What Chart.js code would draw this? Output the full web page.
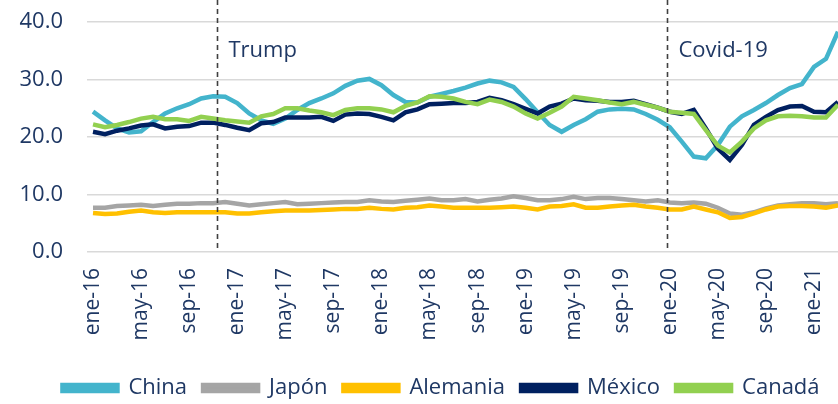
<!DOCTYPE html>
<html lang="es">
<head>
  <meta charset="UTF-8">
  <title>Participación en importaciones</title>
  <style>
    body { margin: 0; background: #fff; }
    .chart-container { width: 838px; height: 404px; position: relative; }
  </style>
</head>
<body>
  <div class="chart-container">
    <canvas id="importChart"></canvas>
  </div>

  <script src="https://cdn.jsdelivr.net/npm/chart.js"></script>
  <script>
    // months ene-16 .. mar-21
    const mesesCortos = ['ene', 'feb', 'mar', 'abr', 'may', 'jun', 'jul', 'ago', 'sep', 'oct', 'nov', 'dic'];
    const meses = [];
    for (let y = 16; y <= 21; y++) {
      for (const m of mesesCortos) meses.push(m + '-' + y);
    }
    const meses63 = meses.slice(0, 63);

    const china = [24.4, 22.9, 21.5, 20.8, 21.0, 22.6, 24.1, 25.0, 25.7, 26.7, 27.1, 27.0, 25.9, 24.1, 22.9, 22.3,
      23.2, 24.7, 25.9, 26.7, 27.6, 28.9, 29.8, 30.1, 29.0, 27.3, 26.1, 26.0, 27.0, 27.5, 28.0, 28.6,
      29.3, 29.8, 29.5, 28.7, 26.6, 24.3, 22.1, 20.9, 22.1, 23.1, 24.4, 24.8, 24.9, 24.8, 24.0, 23.0,
      21.7, 19.2, 16.6, 16.3, 18.6, 21.8, 23.6, 24.7, 25.9, 27.3, 28.5, 29.2, 32.2, 33.6, 38.3];
    const japon = [7.7, 7.7, 8.0, 8.1, 8.2, 8.0, 8.2, 8.4, 8.4, 8.5, 8.5, 8.7, 8.4, 8.1, 8.3, 8.5,
      8.7, 8.3, 8.4, 8.5, 8.6, 8.7, 8.7, 9.0, 8.8, 8.7, 8.9, 9.1, 9.3, 9.0, 9.0, 9.2,
      8.8, 9.1, 9.3, 9.7, 9.4, 9.0, 9.0, 9.2, 9.6, 9.2, 9.4, 9.4, 9.2, 9.0, 8.8, 9.0,
      8.6, 8.5, 8.6, 8.4, 7.7, 6.7, 6.5, 6.9, 7.6, 8.1, 8.3, 8.5, 8.5, 8.3, 8.5];
    const alemania = [6.8, 6.6, 6.7, 7.0, 7.2, 6.9, 6.8, 6.9, 6.9, 6.9, 6.9, 6.9, 6.7, 6.7, 6.9, 7.1,
      7.2, 7.2, 7.2, 7.3, 7.4, 7.5, 7.5, 7.7, 7.5, 7.4, 7.7, 7.8, 8.1, 7.9, 7.7, 7.7,
      7.7, 7.7, 7.8, 7.9, 7.7, 7.4, 7.9, 8.0, 8.3, 7.7, 7.7, 7.9, 8.1, 8.2, 7.9, 7.7,
      7.4, 7.4, 7.9, 7.4, 6.9, 5.9, 6.1, 6.7, 7.4, 7.9, 8.0, 8.0, 7.9, 7.7, 8.1];
    const mexico = [20.9, 20.5, 21.1, 21.5, 22.0, 22.2, 21.5, 21.8, 21.9, 22.5, 22.5, 22.1, 21.6, 21.2, 22.4, 22.6,
      23.4, 23.4, 23.4, 23.5, 22.8, 23.9, 24.1, 24.0, 23.5, 22.9, 24.3, 24.8, 25.7, 25.8, 25.9, 25.9,
      26.1, 26.8, 26.4, 25.7, 24.9, 24.1, 25.3, 25.8, 26.7, 26.4, 26.3, 26.1, 26.1, 26.3, 25.7, 25.1,
      24.4, 24.0, 24.7, 21.5, 18.0, 16.0, 18.6, 22.1, 23.5, 24.7, 25.3, 25.4, 24.4, 24.3, 26.1];
    const canada = [22.2, 21.7, 22.1, 22.6, 23.2, 23.5, 23.1, 23.1, 22.8, 23.5, 23.2, 22.9, 22.7, 22.5, 23.6, 24.0,
      25.0, 25.0, 24.6, 24.3, 23.8, 24.7, 25.0, 25.0, 24.8, 24.3, 25.4, 26.0, 27.1, 27.0, 26.7, 26.1,
      25.7, 26.5, 26.1, 25.3, 24.1, 23.2, 24.2, 25.3, 27.0, 26.7, 26.4, 26.0, 25.7, 26.1, 25.6, 25.1,
      24.4, 24.2, 24.0, 21.2, 18.5, 17.3, 19.2, 21.5, 22.9, 23.6, 23.7, 23.6, 23.4, 23.4, 25.6];

    const yTicks = [0, 10, 20, 30, 40];
    const xTickIdx = [0, 4, 8, 12, 16, 20, 24, 28, 32, 36, 40, 44, 48, 52, 56, 60];
    // event markers: position in months from ene-16
    const eventos = ['Trump', 'Covid-19'];
    const eventosPos = [10.3, 47.75];

    const navy = '#1F3864';
    const toXY = arr => arr.map((v, i) => ({ x: i, y: v }));

    const eventLines = {
      id: 'eventLines',
      afterLayout(chart) {
        // legend sits a bit right of centre in the original
        chart.legend.left += 22;
        chart.legend.right += 22;
      },
      afterDatasetsDraw(chart) {
        const { ctx, scales: { x }, chartArea } = chart;
        ctx.save();
        eventosPos.forEach((p, k) => {
          const px = Math.round(x.getPixelForValue(p)) + 0.5;
          ctx.strokeStyle = '#404040';
          ctx.lineWidth = 1.6;
          ctx.setLineDash([5, 4]);
          ctx.beginPath();
          ctx.moveTo(px, 0);
          ctx.lineTo(px, chartArea.bottom);
          ctx.stroke();
          ctx.setLineDash([]);
          ctx.fillStyle = navy;
          ctx.font = '22px "Open Sans"';
          ctx.textBaseline = 'middle';
          ctx.textAlign = 'left';
          ctx.fillText(eventos[k], px + 11, 51);
        });
        ctx.restore();
      }
    };

    const ds = (label, data, color, order) => ({
      label, data: toXY(data), borderColor: color, backgroundColor: color,
      borderWidth: 4.5, pointRadius: 0, tension: 0, order
    });

    new Chart(document.getElementById('importChart'), {
      type: 'line',
      data: {
        datasets: [
          ds('China', china, '#43B4CC', 4),
          ds('Japón', japon, '#A5A5A5', 3),
          ds('Alemania', alemania, '#FFC000', 2),
          ds('México', mexico, '#002060', 1),
          ds('Canadá', canada, '#92D050', 0)
        ]
      },
      options: {
        responsive: true,
        maintainAspectRatio: false,
        animation: false,
        layout: { padding: { top: 22, right: 0, left: 0, bottom: -5 } },
        plugins: {
          tooltip: { enabled: false },
          legend: {
            position: 'bottom',
            labels: {
              sort: (a, b) => a.datasetIndex - b.datasetIndex,
              boxWidth: 55,
              boxHeight: 6,
              padding: 16,
              color: navy,
              font: { family: 'Open Sans', size: 22 }
            }
          }
        },
        scales: {
          x: {
            type: 'linear',
            min: -0.5,
            max: 62,
            grid: { display: false },
            border: { display: false },
            afterBuildTicks: s => { s.ticks = xTickIdx.map(v => ({ value: v })); },
            afterFit: s => { s.height = 109; s.paddingLeft = 0; s.paddingRight = 0; },
            ticks: {
              autoSkip: false,
              maxRotation: 90,
              minRotation: 90,
              padding: 8,
              color: navy,
              font: { family: 'Open Sans', size: 21 },
              callback: v => meses63[v]
            }
          },
          y: {
            min: 0,
            max: 40,
            afterBuildTicks: s => { s.ticks = yTicks.map(v => ({ value: v })); },
            afterFit: s => { s.width = 87; s.paddingTop = 0; s.paddingBottom = 0; },
            grid: { color: '#D9D9D9', lineWidth: 1.5, drawTicks: false },
            border: { display: false },
            ticks: {
              padding: 24,
              color: navy,
              font: { family: 'Open Sans', size: 22 },
              callback: v => v.toFixed(1)
            }
          }
        }
      },
      plugins: [eventLines]
    });
  </script>
</body>
</html>
